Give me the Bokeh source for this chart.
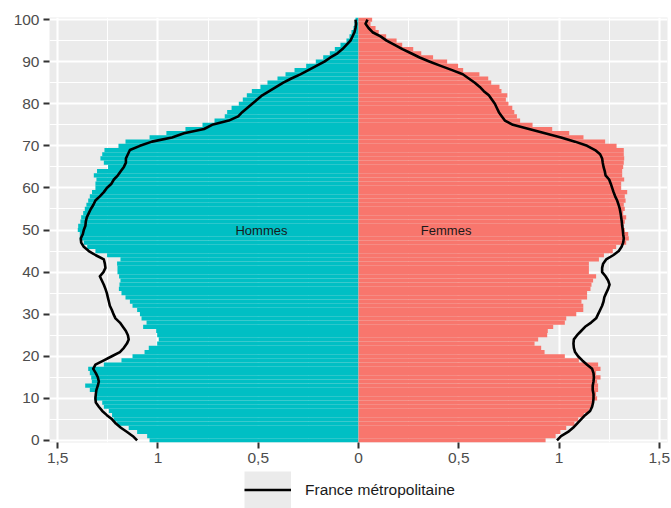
from bokeh.plotting import figure
from bokeh.layouts import column
from bokeh.models import (ColumnDataSource, Range1d, FixedTicker, CustomJSTickFormatter,
                          Legend, LegendItem)
from bokeh.core.properties import value
from bokeh.embed import file_html
from bokeh.resources import INLINE

ages = list(range(0, 101))

# share of population (%) by single year of age, ages 0..100
hommes = [1.042, 1.054, 1.104, 1.146, 1.204, 1.221, 1.229, 1.245, 1.270, 1.278,
          1.317, 1.310, 1.340, 1.363, 1.330, 1.333, 1.340, 1.348, 1.270, 1.182,
          1.127, 1.067, 1.046, 1.004, 0.996, 1.004, 1.009, 1.074, 1.057, 1.082,
          1.090, 1.104, 1.127, 1.140, 1.162, 1.182, 1.195, 1.192, 1.187, 1.194,
          1.202, 1.202, 1.204, 1.187, 1.254, 1.312, 1.353, 1.370, 1.390, 1.390,
          1.400, 1.398, 1.387, 1.383, 1.373, 1.365, 1.357, 1.348, 1.340, 1.329,
          1.312, 1.312, 1.307, 1.320, 1.304, 1.249, 1.270, 1.287, 1.278, 1.267,
          1.197, 1.162, 1.042, 0.958, 0.863, 0.778, 0.718, 0.667, 0.655, 0.633,
          0.597, 0.577, 0.557, 0.532, 0.489, 0.454, 0.404, 0.364, 0.319, 0.261,
          0.213, 0.176, 0.143, 0.118, 0.090, 0.060, 0.045, 0.035, 0.025, 0.020,
          0.015]
femmes = [0.933, 0.983, 1.007, 1.036, 1.077, 1.096, 1.124, 1.149, 1.165, 1.169,
          1.190, 1.185, 1.195, 1.195, 1.190, 1.207, 1.185, 1.207, 1.195, 1.099,
          1.029, 0.928, 0.911, 0.878, 0.896, 0.941, 0.944, 0.971, 1.029, 1.036,
          1.086, 1.121, 1.121, 1.112, 1.140, 1.140, 1.157, 1.162, 1.170, 1.185,
          1.149, 1.149, 1.149, 1.199, 1.224, 1.268, 1.285, 1.335, 1.348, 1.345,
          1.328, 1.323, 1.328, 1.335, 1.320, 1.328, 1.323, 1.332, 1.328, 1.340,
          1.310, 1.310, 1.325, 1.315, 1.315, 1.320, 1.323, 1.325, 1.323, 1.323,
          1.287, 1.230, 1.122, 1.051, 0.966, 0.868, 0.806, 0.790, 0.777, 0.767,
          0.748, 0.735, 0.742, 0.713, 0.703, 0.662, 0.647, 0.603, 0.522, 0.497,
          0.442, 0.372, 0.313, 0.273, 0.218, 0.190, 0.138, 0.101, 0.085, 0.060,
          0.068]
# France métropolitaine profile, ages 0..100
france_hommes = [1.104, 1.125, 1.154, 1.185, 1.210, 1.229, 1.255, 1.278, 1.295, 1.310,
                 1.312, 1.310, 1.307, 1.300, 1.295, 1.300, 1.310, 1.323, 1.312, 1.270,
                 1.230, 1.190, 1.170, 1.155, 1.146, 1.150, 1.160, 1.175, 1.190, 1.212,
                 1.222, 1.230, 1.240, 1.245, 1.250, 1.255, 1.262, 1.270, 1.280, 1.290,
                 1.272, 1.262, 1.265, 1.270, 1.310, 1.345, 1.370, 1.383, 1.385, 1.375,
                 1.370, 1.362, 1.360, 1.355, 1.345, 1.335, 1.322, 1.312, 1.290, 1.270,
                 1.255, 1.232, 1.220, 1.200, 1.185, 1.170, 1.160, 1.160, 1.150, 1.140,
                 1.090, 1.030, 0.930, 0.870, 0.770, 0.730, 0.647, 0.600, 0.580, 0.555,
                 0.530, 0.505, 0.480, 0.445, 0.410, 0.375, 0.335, 0.290, 0.250, 0.210,
                 0.170, 0.140, 0.105, 0.080, 0.060, 0.040, 0.030, 0.020, 0.015, 0.012,
                 0.015]
france_femmes = [0.990, 1.010, 1.045, 1.070, 1.090, 1.110, 1.130, 1.155, 1.165, 1.170,
                 1.172, 1.172, 1.168, 1.168, 1.172, 1.174, 1.172, 1.165, 1.140, 1.116,
                 1.095, 1.080, 1.074, 1.072, 1.074, 1.090, 1.110, 1.130, 1.160, 1.185,
                 1.195, 1.205, 1.215, 1.222, 1.226, 1.235, 1.245, 1.252, 1.245, 1.232,
                 1.215, 1.215, 1.220, 1.235, 1.270, 1.298, 1.312, 1.320, 1.323, 1.320,
                 1.318, 1.315, 1.313, 1.310, 1.307, 1.303, 1.297, 1.290, 1.280, 1.272,
                 1.265, 1.258, 1.250, 1.232, 1.228, 1.222, 1.218, 1.215, 1.205, 1.180,
                 1.140, 1.080, 1.010, 0.930, 0.850, 0.770, 0.730, 0.715, 0.700, 0.690,
                 0.680, 0.665, 0.650, 0.625, 0.605, 0.580, 0.550, 0.520, 0.467, 0.410,
                 0.356, 0.305, 0.262, 0.219, 0.180, 0.140, 0.110, 0.070, 0.050, 0.035,
                 0.045]

x_ticks = [-1.5, -1, -0.5, 0, 0.5, 1, 1.5]
x_minor = [-1.25, -0.75, -0.25, 0.25, 0.75, 1.25]
y_ticks = list(range(0, 101, 10))
y_minor = list(range(5, 100, 10))
side_labels = ["Hommes", "Femmes"]
side_label_x = [-0.484, 0.437]
side_label_y = [50, 50]
legend_label = "France métropolitaine"

FONT = "Liberation Sans"
LW = 2.6

p = figure(width=671, height=471, output_backend="svg", toolbar_location=None,
           x_range=Range1d(-1.541, 1.541), y_range=Range1d(-0.5, 100.5),
           min_border_left=49, min_border_right=4, min_border_top=17,
           min_border_bottom=29)
p.background_fill_color = "#EBEBEB"
p.border_fill_color = "white"
p.outline_line_color = None

src = ColumnDataSource(dict(
    age=ages,
    h_left=[-v for v in hommes],
    f_right=femmes,
    fh=[-v for v in france_hommes],
    ff=france_femmes,
))

p.hbar(y="age", left="h_left", right=0, height=1, source=src,
       fill_color="#00BFC4", line_color=None)
p.hbar(y="age", left=0, right="f_right", height=1, source=src,
       fill_color="#F8766D", line_color=None)

p.line("fh", "age", source=src, line_color="black", line_width=LW,
       line_join="round")
p.line("ff", "age", source=src, line_color="black", line_width=LW,
       line_join="round")

lab_src = ColumnDataSource(dict(x=side_label_x, y=side_label_y, t=side_labels))
p.text(x="x", y="y", text="t", source=lab_src, text_font=value(FONT),
       text_font_size="13px", text_align="center", text_baseline="middle",
       text_color="#1A1A1A")

xt = FixedTicker(ticks=x_ticks, minor_ticks=x_minor)
yt = FixedTicker(ticks=y_ticks, minor_ticks=y_minor)
p.xaxis.ticker = xt
p.yaxis.ticker = yt
p.xgrid.ticker = xt
p.ygrid.ticker = yt
p.xaxis.formatter = CustomJSTickFormatter(
    code="return Math.abs(tick).toString().replace('.', ',');")

for g in (p.xgrid, p.ygrid):
    g.grid_line_color = "white"
    g.grid_line_width = 2.1
    g.minor_grid_line_color = "white"
    g.minor_grid_line_width = 1.1

for ax in (p.xaxis, p.yaxis):
    ax.axis_line_color = None
    ax.major_tick_line_color = "#333333"
    ax.major_tick_line_width = 2
    ax.major_tick_out = 6
    ax.major_tick_in = 0
    ax.minor_tick_line_color = None
    ax.major_label_text_color = "#4D4D4D"
    ax.major_label_text_font = FONT
    ax.major_label_text_font_size = "15.5px"
    ax.major_label_standoff = 4

# legend strip below the chart
lg = figure(width=671, height=37, output_backend="svg", toolbar_location=None,
            x_axis_location=None, y_axis_location=None,
            min_border_left=0, min_border_right=0, min_border_top=0,
            min_border_bottom=0)
lg.grid.visible = False
lg.outline_line_color = None
lg.background_fill_color = "white"
lg.border_fill_color = "white"
key_bg = lg.segment(x0="fh", y0="age", x1="fh", y1="age", source=src,
                    line_color="#EBEBEB", line_width=37, line_cap="butt",
                    visible=False)
key_line = lg.line("ff", "age", source=src, line_color="black", line_width=LW,
                   visible=False)
legend = Legend(items=[LegendItem(label=legend_label, renderers=[key_bg, key_line])],
                location=(195, 0), orientation="horizontal",
                glyph_width=47, glyph_height=37, label_height=37,
                label_standoff=14, padding=0, margin=0, spacing=0,
                border_line_color=None, background_fill_alpha=0,
                label_text_font=FONT, label_text_font_size="15.5px",
                label_text_color="#1A1A1A", label_text_baseline="middle")
lg.add_layout(legend, "center")

layout = column(p, lg, spacing=0)
open("out.html", "w").write(file_html(layout, INLINE))
